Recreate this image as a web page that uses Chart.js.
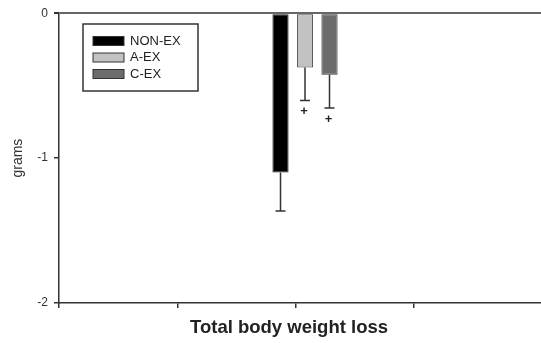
<html lang="en">
<head>
    <meta charset="UTF-8">
    <title>Total body weight loss</title>
    <script src="https://cdn.jsdelivr.net/npm/chart.js"></script>
    <style>
        html, body { margin: 0; padding: 0; overflow: hidden; background: #fff; }
    </style>
</head>
<body>
    <div style="width: 560px; height: 343px;">
        <canvas id="myChart"></canvas>
    </div>
    <script>
        // data
        const categories = ['Total body weight loss'];
        const groups = ['NON-EX', 'A-EX', 'C-EX'];
        const means = [-1.10, -0.375, -0.425];
        const errors = [0.265, 0.228, 0.23];
        const marks = ['', '+', '+'];
        const yTicks = [0, -1, -2];

        const fills = ['#000000', '#c2c2c2', '#6c6c6c'];
        const edges = ['#222222', '#444444', '#333333'];

        // one-sided (downward) error bars + significance marks
        const errorBars = {
            id: 'errorBars',
            afterDatasetsDraw(chart) {
                const ctx = chart.ctx;
                const y = chart.scales.y;
                ctx.save();
                ctx.strokeStyle = '#333';
                ctx.lineWidth = 1.5;
                chart.data.datasets.forEach((ds, i) => {
                    const bar = chart.getDatasetMeta(i).data[0];
                    const yEnd = y.getPixelForValue(means[i] - errors[i]);
                    ctx.beginPath();
                    ctx.moveTo(bar.x, bar.y);
                    ctx.lineTo(bar.x, yEnd);
                    ctx.moveTo(bar.x - 5, yEnd);
                    ctx.lineTo(bar.x + 5, yEnd);
                    ctx.stroke();
                    if (marks[i]) {
                        ctx.fillStyle = '#222';
                        ctx.font = 'bold 13px "Liberation Sans", Arial';
                        ctx.textAlign = 'center';
                        ctx.textBaseline = 'middle';
                        ctx.fillText(marks[i], bar.x - 1, yEnd + 11);
                    }
                });
                ctx.restore();
            }
        };

        // boxed legend inside the plot + x title
        const boxLegend = {
            id: 'boxLegend',
            afterDraw(chart) {
                const ctx = chart.ctx;
                ctx.save();
                ctx.strokeStyle = '#333';
                ctx.lineWidth = 1.5;
                ctx.strokeRect(83, 24, 115, 67);
                ctx.font = '13px "Liberation Sans", Arial';
                ctx.textBaseline = 'middle';
                chart.data.datasets.forEach((ds, i) => {
                    const cy = 41 + i * 16.5;
                    ctx.fillStyle = ds.backgroundColor;
                    ctx.fillRect(93, cy - 4.5, 31, 9);
                    ctx.lineWidth = 1;
                    ctx.strokeStyle = '#333';
                    ctx.strokeRect(93, cy - 4.5, 31, 9);
                    ctx.fillStyle = '#222';
                    ctx.fillText(ds.label, 130, cy);
                });
                ctx.font = 'bold 18.5px "Liberation Sans", Arial';
                ctx.textAlign = 'center';
                ctx.fillStyle = '#222';
                ctx.fillText(categories[0], 289, 328);
                ctx.restore();
            }
        };

        function drawChart(tag) {
            const ctx = document.getElementById(tag);

            let data = {
                labels: categories,
                datasets: groups.map((g, i) => ({
                    label: g,
                    data: [means[i]],
                    backgroundColor: fills[i],
                    borderColor: edges[i],
                    borderWidth: 1,
                    borderSkipped: false,
                    categoryPercentage: 0.1494,
                    barPercentage: 0.66,
                }))
            };
            let options = {
                responsive: true,
                maintainAspectRatio: false,
                animation: false,
                layout: { padding: { top: 12, right: 9, left: 0, bottom: 0 } },
                plugins: { legend: { display: false }, tooltip: { enabled: false } },
                scales: {
                    x: { display: false },
                    x2: {
                        type: 'linear',
                        position: 'bottom',
                        offset: false,
                        min: 0,
                        max: 4.16,
                        ticks: { stepSize: 1, callback: () => '', padding: 0 },
                        grid: { offset: false, drawOnChartArea: false, tickLength: 5, color: '#333', lineWidth: 1.5 },
                        border: { color: '#333', width: 1.5 },
                        afterFit: (scale) => { scale.height = 40; }
                    },
                    y: {
                        min: -2,
                        max: 0,
                        afterBuildTicks: (scale) => { scale.ticks = yTicks.map(v => ({ value: v })); },
                        ticks: {
                            color: '#333',
                            padding: 6,
                            font: { family: '"Liberation Sans", Arial', size: 12 }
                        },
                        grid: {
                            drawOnChartArea: true,
                            tickLength: 5,
                            color: (c) => c.tick && c.tick.value === 0 ? '#666' : 'rgba(0,0,0,0)',
                            lineWidth: (c) => c.tick && c.tick.value === 0 ? 2 : 1.5,
                            tickColor: '#333'
                        },
                        border: { color: '#333', width: 1.5 },
                        title: {
                            display: true,
                            text: 'grams',
                            color: '#333',
                            padding: { top: 10, bottom: 0 },
                            font: { family: '"Liberation Sans", Arial', size: 14 }
                        },
                        afterFit: (scale) => { scale.width = 59; }
                    }
                }
            };

            new Chart(ctx, {
                type: 'bar',
                data: data,
                options: options,
                plugins: [errorBars, boxLegend]
            });
        }

        drawChart('myChart');
    </script>
</body>
</html>
